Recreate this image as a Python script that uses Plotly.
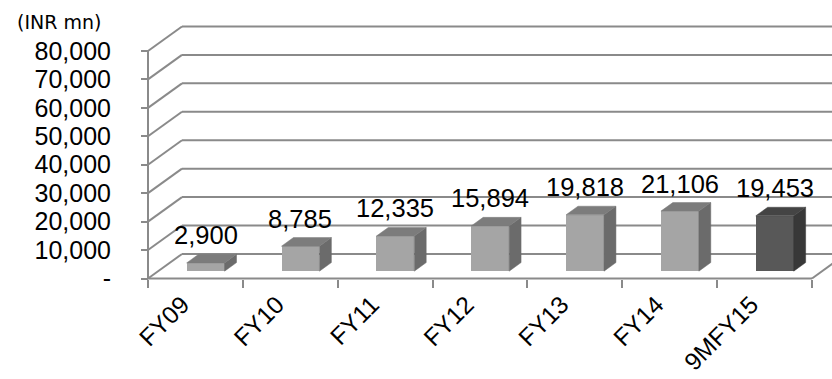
import plotly.graph_objects as go

# ---- data ----
categories = ["FY09", "FY10", "FY11", "FY12", "FY13", "FY14", "9MFY15"]
revenue = [2900, 8785, 12335, 15894, 19818, 21106, 19453]
highlight = [False, False, False, False, False, False, True]
y_ticks = [0, 10000, 20000, 30000, 40000, 50000, 60000, 70000, 80000]
y_tick_text = ["-", "10,000", "20,000", "30,000", "40,000", "50,000", "60,000", "70,000", "80,000"]
unit_label = "(INR mn)"

# ---- geometry of the pseudo-3D frame ----
W, H = 832, 379
X0_PX, Y0_PX = 148, 278.5          # front-left corner of the floor
PX_PER_CAT = 94.857                # horizontal pixels per category
PX_PER_VAL = 28.44 / 10000         # vertical pixels per INR mn
DEPTH_PX = (34, 24.5)              # offset from front plane to back wall

dx = DEPTH_PX[0] / PX_PER_CAT
dy = DEPTH_PX[1] / PX_PER_VAL
n = len(categories)

x_range = [-X0_PX / PX_PER_CAT, (W - X0_PX) / PX_PER_CAT]
y_range = [(Y0_PX - H) / PX_PER_VAL, Y0_PX / PX_PER_VAL]

FRONT = 0.30      # bar front face sits 30% into the depth
BAR_D = 0.35      # bar depth as share of the full depth
BAR_W = 0.40      # bar width in category units
LABEL_SHIFT = -0.14   # slide rotated category names left under their slot

GRID = "#8a8a8a"
FONT = "Liberation Sans, Arial, sans-serif"
colors = {
    False: dict(front="#a5a5a5", top="#7c7c7c", side="#6b6b6b"),
    True: dict(front="#585858", top="#444444", side="#383838"),
}

fig = go.Figure()

# ---- walls, floor and axis line (drawn beneath the bars) ----
shapes = []
def seg(x0, y0, x1, y1):
    shapes.append(dict(type="line", xref="x", yref="y", x0=x0, y0=y0, x1=x1, y1=y1,
                       line=dict(color=GRID, width=2), layer="below"))

for v in y_ticks:
    seg(0, v, dx, v + dy)                  # side wall
    seg(dx, v + dy, n + dx, v + dy)        # back wall
seg(0, 0, n, 0)                            # floor front edge
seg(n, 0, n + dx, dy)                      # floor right edge
seg(0, 0, 0, y_ticks[-1])                  # vertical axis line

# ---- bars: front faces ----
base = FRONT * dy
xc = [i + 0.5 + FRONT * dx for i in range(n)]
fig.add_trace(go.Bar(
    x=xc, y=revenue, base=[base] * n, width=BAR_W,
    marker=dict(color=[colors[h]["front"] for h in highlight], line=dict(width=0)),
    hoverinfo="skip", showlegend=False,
))

# ---- bars: top and side faces ----
bdx, bdy = BAR_D * dx, BAR_D * dy
for i, (v, h) in enumerate(zip(revenue, highlight)):
    x0, x1 = xc[i] - BAR_W / 2, xc[i] + BAR_W / 2
    t = base + v
    c = colors[h]
    fig.add_trace(go.Scatter(
        x=[x1, x1, x1 + bdx, x1 + bdx, x1], y=[base, t, t + bdy, base + bdy, base],
        fill="toself", fillcolor=c["side"], mode="lines",
        line=dict(color=c["side"], width=0.5), hoverinfo="skip", showlegend=False,
    ))
    fig.add_trace(go.Scatter(
        x=[x0, x1, x1 + bdx, x0 + bdx, x0], y=[t, t, t + bdy, t + bdy, t],
        fill="toself", fillcolor=c["top"], mode="lines",
        line=dict(color=c["top"], width=0.5), hoverinfo="skip", showlegend=False,
    ))

# ---- value labels ----
annotations = []
for i, v in enumerate(revenue):
    annotations.append(dict(
        x=xc[i], y=base + v + bdy, xref="x", yref="y",
        text=f"{v:,}", showarrow=False, yanchor="middle", yshift=19,
        font=dict(family=FONT, size=25.5, color="#000000"),
    ))
annotations.append(dict(
    x=59 / W, y=1 - 22 / H, xref="paper", yref="paper", text=unit_label,
    showarrow=False, xanchor="center", yanchor="middle",
    font=dict(family="DejaVu Sans, Verdana, sans-serif", size=19, color="#000000"),
))

# a second x axis carries the category names under the floor
fig.add_trace(go.Scatter(x=[None], y=[None], xaxis="x2", showlegend=False, hoverinfo="skip"))

fig.update_layout(
    width=W, height=H,
    margin=dict(l=0, r=0, t=0, b=0),
    paper_bgcolor="white", plot_bgcolor="rgba(0,0,0,0)",
    showlegend=False, bargap=0,
    shapes=shapes, annotations=annotations,
    xaxis=dict(
        range=x_range, anchor="free", position=(H - Y0_PX) / H,
        showgrid=False, zeroline=False, showline=False,
        tickmode="array", tickvals=list(range(n + 1)), showticklabels=False,
        ticks="outside", ticklen=8, tickwidth=2, tickcolor=GRID,
    ),
    xaxis2=dict(
        range=x_range, overlaying="x", anchor="free", position=(H - Y0_PX) / H,
        showgrid=False, zeroline=False, showline=False,
        tickmode="array", tickvals=[i + 0.5 + LABEL_SHIFT for i in range(n)],
        ticktext=categories,
        tickangle=-45, ticks="", ticklabelstandoff=6,
        tickfont=dict(family=FONT, size=24.5, color="#000000"),
    ),
    yaxis=dict(
        range=y_range, anchor="free", position=X0_PX / W,
        showgrid=False, zeroline=False, showline=False,
        tickmode="array", tickvals=y_ticks, ticktext=y_tick_text,
        ticks="outside", ticklen=7, tickwidth=2, tickcolor=GRID,
        ticklabelstandoff=25,
        tickfont=dict(family=FONT, size=25, color="#000000"),
    ),
)

fig.write_html("out.html")
